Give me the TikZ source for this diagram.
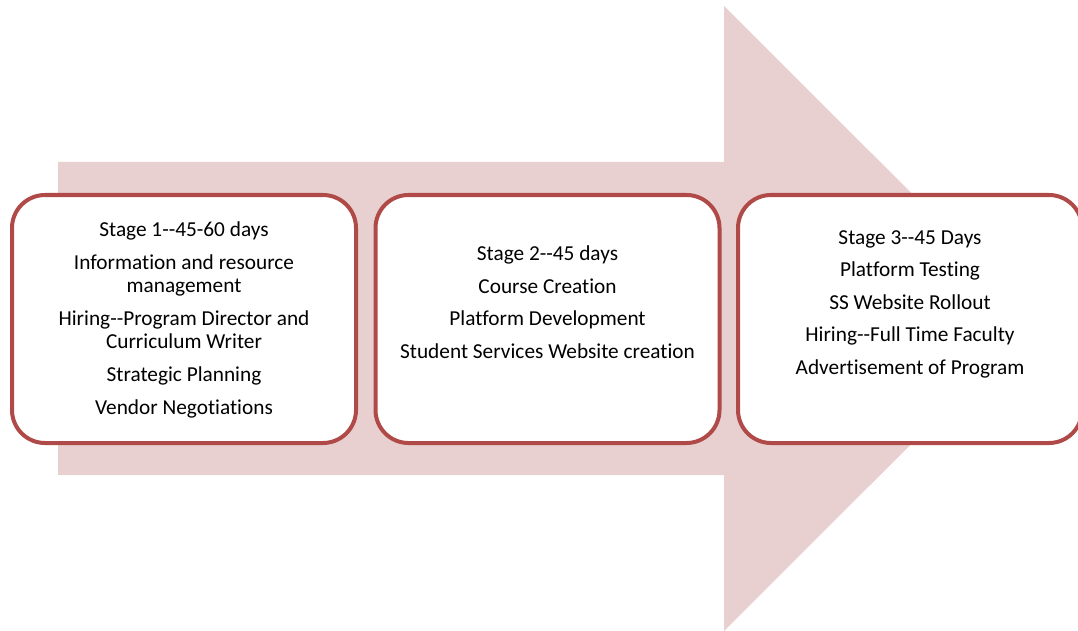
\documentclass[tikz,border=0pt]{standalone}
\usepackage{fontspec}
\setmainfont{Carlito}[Ligatures={CommonOff,ContextualOff}]
\usepackage{xcolor}
\usepackage{tikz}
\usetikzlibrary{positioning}
\usetikzlibrary{calc}
\definecolor{arrowpink}{RGB}{232,208,209}
\definecolor{stagered}{RGB}{176,74,72}
\newcommand{\twohyph}{-\kern0pt-}

\begin{document}
\begin{tikzpicture}[x=1pt, y=-1pt,
		stagebox/.style={draw=stagered, line width=4pt, fill=white, rounded corners=33pt, minimum width=344pt, minimum height=248pt},
		stagetext/.style={align=center, font=\fontsize{21.3}{23}\selectfont, text=black}]
			\useasboundingbox (0,0) rectangle (1078,631);
			% big arrow behind the stages
			\fill[arrowpink] (58,162) -- (724,162) -- (724,6) -- (1037,318.5) -- (724,631) -- (724,475) -- (58,475) -- cycle;
			\foreach \i/\cx in {1/184, 2/547.5, 3/910}
			{
				\node[stagebox] (stage\i) at (\cx,319) {};
			}
			\node[stagetext] (text1) at ([yshift=-1pt]stage1.center) {Stage 1\twohyph45-60 days\\[10pt] Information and resource\\ management\\[10pt] Hiring\twohyph Program Director and\\ Curriculum Writer\\[10pt] Strategic Planning\\[10pt] Vendor Negotiations};
			\node[stagetext] (text2) at ([yshift=17pt]stage2.center) {Stage 2\twohyph45 days\\[9.5pt] Course Creation\\[9.5pt] Platform Development\\[9.5pt] Student Services Website creation};
			\node[stagetext] (text3) at ([yshift=15pt]stage3.center) {Stage 3\twohyph45 Days\\[9.5pt] Platform Testing\\[9.5pt] SS Website Rollout\\[9.5pt] Hiring\twohyph Full Time Faculty\\[9.5pt] Advertisement of Program};
		\end{tikzpicture}
\end{document}
